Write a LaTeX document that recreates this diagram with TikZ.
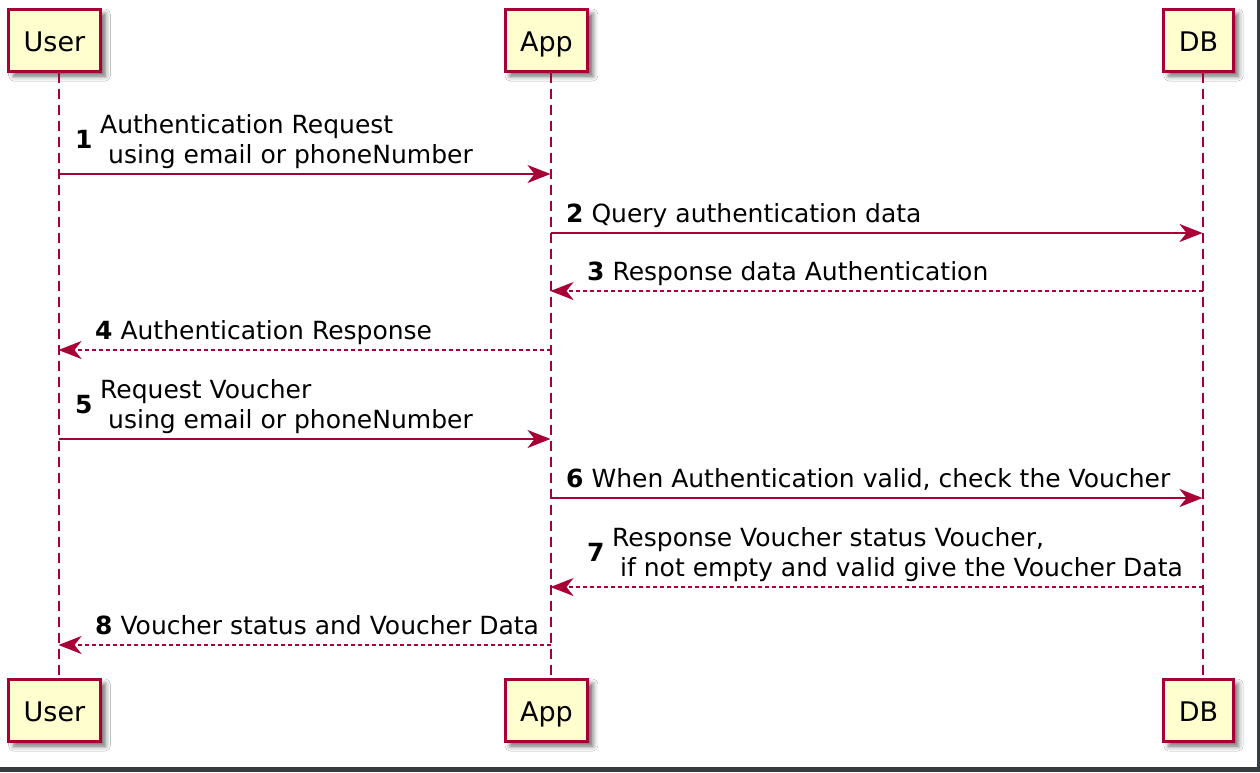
\documentclass[tikz,border=0pt]{standalone}
\usepackage{fontspec}
\setmainfont{DejaVu Sans}
\usetikzlibrary{arrows.meta,shadows.blur}
\definecolor{umlred}{HTML}{A80036}
\definecolor{umlfill}{HTML}{FEFECE}
\definecolor{umlframe}{HTML}{383B3E}
\tikzset{x=1pt,y=-1pt}
\newcommand\msgfont{\fontsize{25}{30}\selectfont}
\newcommand\boxfont{\fontsize{27}{30}\selectfont}
\def\xu{58.5}
\def\xa{550.5}
\def\xd{1202.5}
\def\boxtop{40}
\def\boxbot{710}

\begin{document}
\begin{tikzpicture}[
  participant/.style={draw=umlred, line width=3pt, fill=umlfill,
    minimum height=62pt, inner xsep=15pt, text height=22pt, text depth=0pt,
    font=\boxfont,
    blur shadow={shadow xshift=5pt, shadow yshift=-5pt,
      shadow blur radius=5pt, shadow opacity=60}},
  lifeline/.style={umlred, line width=2pt, dash pattern=on 10pt off 6pt},
  call/.style={umlred, line width=2pt, -{Stealth[length=23pt,width=18pt,inset=7pt]}},
  reply/.style={call, dash pattern=on 4pt off 3pt},
  msg/.style={anchor=base west, inner sep=0pt, font=\msgfont}
]

\useasboundingbox (0,0) rectangle (1260,772);
\fill[white] (0,0) rectangle (1260,772);
\fill[umlframe] (1257,0) rectangle (1260,772);
\fill[umlframe] (0,767) rectangle (1260,772);

%% participants, top and bottom
\node[participant] (usertop) at (\xu-4,\boxtop) {User};
\node[participant] (apptop) at (\xa-4,\boxtop) {App};
\node[participant] (dbtop) at (\xd-4,\boxtop) {DB};
\node[participant] (userbot) at (\xu-4,\boxbot) {User};
\node[participant] (appbot) at (\xa-4,\boxbot) {App};
\node[participant] (dbbot) at (\xd-4,\boxbot) {DB};

\draw[lifeline] ([xshift=4pt]usertop.south) -- ([xshift=4pt]userbot.north);
\draw[lifeline] ([xshift=4pt]apptop.south) -- ([xshift=4pt]appbot.north);
\draw[lifeline] ([xshift=4pt]dbtop.south) -- ([xshift=4pt]dbbot.north);

%% message end points
\coordinate (u1) at (\xu,174);
\coordinate (a1) at (\xa,174);
\coordinate (a2) at (\xa,233);
\coordinate (d2) at (\xd,233);
\coordinate (d3) at (\xd,291);
\coordinate (a3) at (\xa,291);
\coordinate (a4) at (\xa,350);
\coordinate (u4) at (\xu,350);
\coordinate (u5) at (\xu,439);
\coordinate (a5) at (\xa,439);
\coordinate (a6) at (\xa,498);
\coordinate (d6) at (\xd,498);
\coordinate (d7) at (\xd,587);
\coordinate (a7) at (\xa,587);
\coordinate (a8) at (\xa,645);
\coordinate (u8) at (\xu,645);

\draw[call] (u1) -- (a1);
\draw[call] (a2) -- (d2);
\draw[reply] (d3) -- (a3);
\draw[reply] (a4) -- (u4);
\draw[call] (u5) -- (a5);
\draw[call] (a6) -- (d6);
\draw[reply] (d7) -- (a7);
\draw[reply] (a8) -- (u8);

%% labels
\node[msg] (n1) at (75,148) {\textbf{1}};
\node[msg] (m1a) at (100,133) {Authentication Request};
\node[msg] (m1b) at (108,163) {using email or phoneNumber};
\node[msg] (m2) at (566,222) {\textbf{2} Query authentication data};
\node[msg] (m3) at (587,280) {\textbf{3} Response data Authentication};
\node[msg] (m4) at (95,339) {\textbf{4} Authentication Response};
\node[msg] (n5) at (75,413) {\textbf{5}};
\node[msg] (m5a) at (100,398) {Request Voucher};
\node[msg] (m5b) at (108,428) {using email or phoneNumber};
\node[msg] (m6) at (566,487) {\textbf{6} When Authentication valid, check the Voucher};
\node[msg] (n7) at (587,561) {\textbf{7}};
\node[msg] (m7a) at (612,546) {Response Voucher status Voucher,};
\node[msg] (m7b) at (620,576) {if not empty and valid give the Voucher Data};
\node[msg] (m8) at (95,634) {\textbf{8} Voucher status and Voucher Data};

\end{tikzpicture}
\end{document}
